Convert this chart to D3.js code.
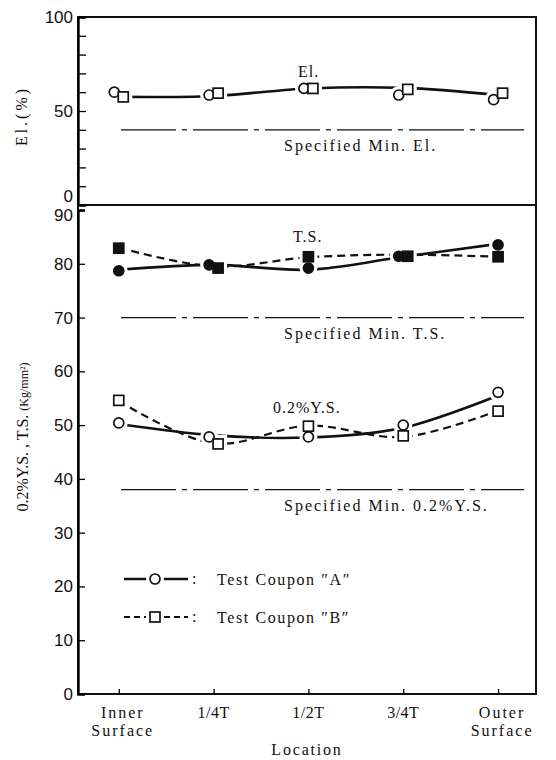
<!DOCTYPE html>
<html>
<head>
<meta charset="utf-8">
<script src="https://cdn.jsdelivr.net/npm/d3@7"></script>
<style>
  body { margin: 0; background: #fff; }
  text { fill: #111; }
</style>
</head>
<body>
<script>
// locations along the wall
const locations = [["Inner", "Surface"], ["1/4T"], ["1/2T"], ["3/4T"], ["Outer", "Surface"]];

// elongation (%)
const elA = [60, 58.5, 62, 58.5, 56];
const elB = [57.5, 59.5, 62, 61.5, 59.5];
const elFit = [57.5, 58, 62, 62.3, 58.5];

// tensile strength (kg/mm2)
const tsA = [78.7, 79.8, 79.2, 81.4, 83.5];
const tsB = [82.9, 79.2, 81.3, 81.4, 81.3];
const tsFitA = [78.9, 79.8, 78.9, 81.3, 83.7];
const tsFitB = [83, 79.5, 81.2, 81.7, 81.3];

// 0.2% yield strength (kg/mm2)
const ysA = [50.4, 47.8, 47.8, 50, 56.1];
const ysB = [54.6, 46.5, 49.8, 48, 52.6];
const ysFitA = [50.2, 48.1, 47.7, 49.5, 55.5];
const ysFitB = [54.5, 46.6, 49.9, 47.8, 52.7];

// specified minimums
const minEl = 40, minTS = 70, minYS = 38;

// tick values
const elTicks = d3.range(0, 101, 10);
const elLabels = [0, 50, 100];
const mainTicks = d3.range(0, 91, 10);

const W = 556, H = 760;
const left = 78, right = 536;
const elTop = 17, elBottom = 205, mainBottom = 694;
const serif = "'Liberation Serif', 'DejaVu Serif', serif";
const sans = "'Liberation Sans', Arial, sans-serif";

const svg = d3.select("body").append("svg")
    .attr("width", W)
    .attr("height", H);

// scales
const x = d3.scaleLinear().domain([-0.43, 4.4]).range([left, right]);
const yEl = d3.scaleLinear().domain([0, 100]).range([elBottom, elTop]);
const yMain = d3.scaleLinear().domain([0, 90]).range([mainBottom, 210]);

// frames
svg.append("rect")
    .attr("x", left).attr("y", elTop)
    .attr("width", right - left).attr("height", elBottom - elTop)
    .attr("fill", "none").attr("stroke", "#111").attr("stroke-width", 2);
svg.append("rect")
    .attr("x", left).attr("y", elBottom)
    .attr("width", right - left).attr("height", mainBottom - elBottom)
    .attr("fill", "none").attr("stroke", "#111").attr("stroke-width", 2);

// y axis of the El. panel
const elAxis = svg.append("g")
    .attr("transform", `translate(${left},0)`)
    .call(d3.axisLeft(yEl).tickValues(elTicks).tickSize(-8).tickPadding(5)
        .tickFormat(d => elLabels.includes(d) ? d : ""));
elAxis.select(".domain").attr("stroke-width", 2.4);
elAxis.selectAll(".tick line").attr("stroke-width", 1.3);
elAxis.selectAll("text")
    .style("font-family", sans).style("font-size", "17px")
    .attr("dy", d => d === 0 ? "-0.2em" : "0.32em");

// y axis of the strength panel
const mainAxis = svg.append("g")
    .attr("transform", `translate(${left},0)`)
    .call(d3.axisLeft(yMain).tickValues(mainTicks).tickSize(-7).tickPadding(5));
mainAxis.select(".domain").attr("stroke-width", 2.4);
mainAxis.selectAll(".tick line").attr("stroke-width", 1.3);
mainAxis.selectAll("text")
    .style("font-family", sans).style("font-size", "17px")
    .attr("dy", d => d === 90 ? "0.62em" : "0.32em");

// x axis
const xAxis = svg.append("g")
    .attr("transform", `translate(0,${mainBottom})`)
    .call(d3.axisBottom(x).tickValues(d3.range(5)).tickSize(-5).tickFormat(""));
xAxis.select(".domain").remove();
xAxis.selectAll(".tick line").attr("stroke-width", 1.3);

const xLabels = svg.append("g");
locations.forEach((lines, i) => {
    lines.forEach((s, j) => {
        xLabels.append("text")
            .attr("x", x(i) + (lines.length > 1 ? 4 : 0))
            .attr("y", 718 + j * 18)
            .attr("text-anchor", "middle")
            .style("font-family", serif).style("font-size", "16px")
            .style("letter-spacing", lines.length > 1 ? "2px" : "0.5px")
            .text(s);
    });
});

svg.append("text")
    .attr("x", 307).attr("y", 755)
    .attr("text-anchor", "middle")
    .style("font-family", serif).style("font-size", "16px")
    .style("letter-spacing", "1.8px")
    .text("Location");

// y titles
svg.append("text")
    .attr("transform", "translate(27,116) rotate(-90)")
    .attr("text-anchor", "middle")
    .style("font-family", serif).style("font-size", "16px")
    .style("letter-spacing", "3px")
    .text("El.(%)");

const yTitle = svg.append("text")
    .attr("transform", "translate(28,437) rotate(-90)")
    .attr("text-anchor", "middle")
    .style("font-family", serif).style("font-size", "16px");
yTitle.append("tspan").text("0.2%Y.S. , T.S. ");
yTitle.append("tspan").style("font-size", "12px").text("(Kg/mm²)");

// specified minimum lines
function specLine(yScale, v, label) {
    svg.append("line")
        .attr("x1", 121).attr("x2", 524)
        .attr("y1", yScale(v)).attr("y2", yScale(v))
        .attr("stroke", "#111").attr("stroke-width", 1.2)
        .attr("stroke-dasharray", "55,6,5,6");
    svg.append("text")
        .attr("x", 284).attr("y", yScale(v) + 21)
        .style("font-family", serif).style("font-size", "16px")
        .style("letter-spacing", "2px")
        .text(label);
}
specLine(yEl, minEl, "Specified Min. El.");
specLine(yMain, minTS, "Specified Min. T.S.");
specLine(yMain, minYS, "Specified Min. 0.2%Y.S.");

// fitted curves
function curve(yScale, vals, dashed) {
    const line = d3.line()
        .x((d, i) => x(i))
        .y(d => yScale(d))
        .curve(d3.curveCatmullRom.alpha(0.5));
    svg.append("path")
        .attr("d", line(vals))
        .attr("fill", "none")
        .attr("stroke", "#111")
        .attr("stroke-width", dashed ? 2.2 : 2.6)
        .attr("stroke-dasharray", dashed ? "8,5" : null);
}
curve(yEl, elFit, false);
curve(yMain, tsFitA, false);
curve(yMain, tsFitB, true);
curve(yMain, ysFitA, false);
curve(yMain, ysFitB, true);

// markers, with a white halo that opens a gap in the lines
function marker(g, shape, cx, cy, filled, halo) {
    const el = shape === "circle"
        ? g.append("circle").attr("cx", cx).attr("cy", cy).attr("r", 5)
        : g.append("rect").attr("x", cx - 5).attr("y", cy - 5).attr("width", 10).attr("height", 10);
    if (halo) {
        el.attr("fill", "#fff").attr("stroke", "#fff").attr("stroke-width", 8);
    } else {
        el.attr("fill", filled ? "#111" : "#fff").attr("stroke", "#111").attr("stroke-width", 1.7);
    }
}

function markers(yScale, valsA, valsB, filled) {
    const pts = [];
    valsA.forEach((a, i) => {
        const b = valsB[i];
        const close = Math.abs(yScale(a) - yScale(b)) < 10;
        pts.push({ i, v: a, shape: "circle", dx: close ? -4.5 : 0 });
        pts.push({ i, v: b, shape: "rect", dx: close ? 4.5 : 0 });
    });
    const g = svg.append("g");
    pts.forEach(p => marker(g, p.shape, x(p.i) + p.dx, yScale(p.v), filled, true));
    pts.forEach(p => marker(g, p.shape, x(p.i) + p.dx, yScale(p.v), filled, false));
}
markers(yEl, elA, elB, false);
markers(yMain, tsA, tsB, true);
markers(yMain, ysA, ysB, false);

// panel labels
[["El.", 298, 77], ["T.S.", 293, 242], ["0.2%Y.S.", 273, 413]].forEach(([t, lx, ly]) => {
    svg.append("text")
        .attr("x", lx).attr("y", ly)
        .style("font-family", serif).style("font-size", "16px")
        .style("letter-spacing", "1px")
        .text(t);
});

// legend
const legend = svg.append("g");
[["circle", null, "Test Coupon ″A″", 579], ["rect", "6,4", "Test Coupon ″B″", 617]].forEach(([shape, dash, label, ly]) => {
    legend.append("line")
        .attr("x1", 124).attr("x2", 188).attr("y1", ly).attr("y2", ly)
        .attr("stroke", "#111").attr("stroke-width", dash ? 2.2 : 2.6)
        .attr("stroke-dasharray", dash);
    marker(legend, shape, 155, ly, false, true);
    marker(legend, shape, 155, ly, false, false);
    legend.append("text")
        .attr("x", 192).attr("y", ly + 5)
        .style("font-family", serif).style("font-size", "16px")
        .text(":");
    legend.append("text")
        .attr("x", 217).attr("y", ly + 6)
        .style("font-family", serif).style("font-size", "16px")
        .style("letter-spacing", "1.6px")
        .text(label);
});
</script>
</body>
</html>
